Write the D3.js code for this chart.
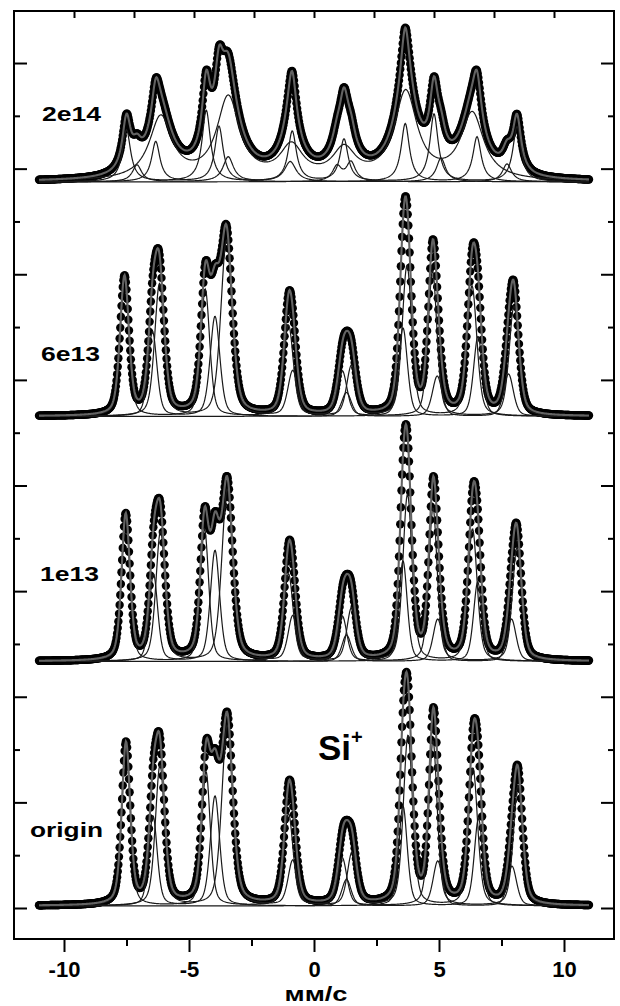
<!DOCTYPE html>
<html><head><meta charset="utf-8">
<script src="https://cdn.jsdelivr.net/npm/d3@7"></script>
<style>body{margin:0;background:#fff}svg text{font-family:"Liberation Sans",Arial,sans-serif;font-weight:bold}</style>
</head><body>
<svg id="c" width="620" height="1006"></svg>
<script>
// ---- data (velocities in mm/s, heights in y-axis units of one tick step) ----
const spectrumNames = ["origin", "1e13", "6e13", "2e14"];
const baselines = [0.04, 4.67, 9.31, 13.75];
const lorentzFraction = [0.4, 0.4, 0.4, 1.0];
const labelX = [30, 40, 41, 42];
const labelY = [837, 581, 361, 121];
const labelWidth = [73, 59, 59, 59];
const xMajorTicks = [-10, -5, 0, 5, 10];
const xMinorTicks = [-7.5, -2.5, 2.5, 7.5];
const topTicks = [-9.6, -7.2, -4.8, -2.4, 0, 2.4, 4.8, 7.2, 9.6];
const yTicks = [0,1,2,3,4,5,6,7,8,9,10,11,12,13,14,15,16];

// origin: line centres, heights, half-widths, subspectrum index
const originCenters = [-7.52,-4.32,-1.02,1.13,4.76,8.16,  -6.16,-3.47,-0.85,1.52,3.76,6.36,  -6.44,-3.96,3.56,6.58,  1.30,4.95,7.92];
const originHeights = [3.05,2.54,1.74,0.90,3.12,2.27,      2.65,3.41,0.85,1.00,3.22,2.60,      1.70,2.08,1.89,1.65,      0.50,0.85,0.75];
const originWidths  = [0.20,0.20,0.22,0.22,0.20,0.22,      0.22,0.26,0.22,0.22,0.22,0.22,      0.20,0.22,0.20,0.20,      0.22,0.22,0.22];
const originGroups  = [0,0,0,0,0,0, 1,1,1,1,1,1, 2,2,2,2, 3,3,3];

// 1e13
const e13Centers = [-7.53,-4.38,-1.02,1.13,4.76,8.12,  -6.14,-3.47,-0.85,1.50,3.74,6.34,  -6.42,-3.96,3.56,6.55,  1.30,4.95,7.90];
const e13Heights = [2.75,2.50,1.65,0.85,2.90,2.15,      2.45,3.25,0.85,1.00,3.15,2.50,      1.65,2.10,1.90,1.50,      0.50,0.80,0.80];
const e13Widths  = [0.20,0.20,0.22,0.22,0.20,0.22,      0.22,0.26,0.22,0.22,0.22,0.22,      0.20,0.22,0.20,0.20,      0.22,0.22,0.22];
const e13Groups  = [0,0,0,0,0,0, 1,1,1,1,1,1, 2,2,2,2, 3,3,3];

// 6e13
const e6Centers = [-7.58,-4.35,-1.02,1.13,4.74,8.00,  -6.18,-3.50,-0.85,1.50,3.72,6.32,  -6.46,-3.96,3.56,6.56,  1.30,4.93,7.78];
const e6Heights = [2.61,2.40,1.72,0.85,2.75,2.08,      2.50,3.32,0.85,0.95,2.84,2.46,      1.60,1.89,1.67,1.51,      0.45,0.76,0.80];
const e6Widths  = [0.21,0.21,0.23,0.23,0.21,0.23,      0.23,0.27,0.23,0.23,0.23,0.23,      0.21,0.23,0.21,0.21,      0.23,0.23,0.23];
const e6Groups  = [0,0,0,0,0,0, 1,1,1,1,1,1, 2,2,2,2, 3,3,3];

// 2e14
const e14Centers = [-7.50,-4.31,-0.87,1.20,4.80,8.12,  -6.33,-3.80,3.65,6.52,  -6.13,-3.43,-0.90,1.20,3.67,6.33,  -7.08,-3.43,-0.95,5.08,  0.92,1.48,7.72];
const e14Heights = [0.98,1.35,0.95,0.80,1.28,1.04,      0.76,1.05,1.10,0.85,    1.19,1.55,0.61,0.55,1.65,1.25,      0.32,0.47,0.38,0.45,     0.28,0.36,0.34];
const e14Widths  = [0.20,0.20,0.20,0.20,0.20,0.20,      0.20,0.20,0.20,0.20,    0.55,0.55,0.55,0.55,0.55,0.55,      0.22,0.25,0.28,0.22,     0.22,0.22,0.22];
const e14Groups  = [0,0,0,0,0,0, 1,1,1,1, 2,2,2,2,2,2, 3,3,3,3, 4,4,4];

const spectra = [
  {c: originCenters, h: originHeights, w: originWidths, g: originGroups},
  {c: e13Centers, h: e13Heights, w: e13Widths, g: e13Groups},
  {c: e6Centers, h: e6Heights, w: e6Widths, g: e6Groups},
  {c: e14Centers, h: e14Heights, w: e14Widths, g: e14Groups}
];

// ---- chart ----
const svg = d3.select("#c");
const x = d3.scaleLinear().domain([-12, 12]).range([14, 614]);
const y = d3.scaleLinear().domain([-0.587, 16.985]).range([939, 11]);

const vel = d3.range(-11, 11.0001, 0.025);
// pseudo-Voigt line shape
const shape = (v, c, h, w, eta) => {
  const q = ((v - c) / w) ** 2;
  return h * (eta / (1 + q) + (1 - eta) * Math.exp(-Math.LN2 * q));
};

spectra.forEach((s, i) => {
  const base = baselines[i], eta = lorentzFraction[i];
  const idx = d3.range(s.c.length);
  const groups = Array.from(new Set(s.g));
  const sumOf = (v, ks) => base + d3.sum(ks, k => shape(v, s.c[k], s.h[k], s.w[k], eta));
  const pts = vel.map(v => [v, sumOf(v, idx)]);
  const line = d3.line().x(d => x(d[0])).y(d => y(d[1]));
  const gS = svg.append("g");
  gS.append("g").selectAll("circle").data(pts).join("circle")
    .attr("cx", d => x(d[0])).attr("cy", d => y(d[1])).attr("r", 4.2).attr("fill", "#000");
  groups.forEach(gr => {
    const ks = idx.filter(k => s.g[k] === gr);
    const cp = vel.map(v => [v, sumOf(v, ks)]);
    gS.append("path").attr("d", line(cp)).attr("fill", "none").attr("stroke", "#1a1a1a").attr("stroke-width", 1.2);
  });
  gS.append("path").attr("d", line(pts)).attr("fill", "none").attr("stroke", "#636363").attr("stroke-width", 2.1);
  svg.append("text").attr("x", labelX[i]).attr("y", labelY[i]).attr("font-size", 21)
    .attr("textLength", labelWidth[i]).attr("lengthAdjust", "spacingAndGlyphs").text(spectrumNames[i]);
});

// axes
const axG = svg.append("g");
const bMaj = axG.append("g").attr("transform", "translate(0,939)")
  .call(d3.axisBottom(x).tickValues(xMajorTicks).tickSize(13).tickPadding(9).tickFormat(d => String(d)));
axG.append("g").attr("transform", "translate(0,939)")
  .call(d3.axisBottom(x).tickValues(xMinorTicks).tickSize(7).tickFormat(""));
axG.append("g").attr("transform", "translate(0,11)")
  .call(d3.axisTop(x).tickValues(topTicks).tickSize(-7).tickFormat(""));
const lAx = axG.append("g").attr("transform", "translate(14,0)")
  .call(d3.axisLeft(y).tickValues(yTicks).tickSize(0).tickFormat(""));
lAx.selectAll(".tick line").attr("x2", d => d % 2 === 0 ? 13 : 6);
const rAx = axG.append("g").attr("transform", "translate(614,0)")
  .call(d3.axisRight(y).tickValues(yTicks).tickSize(0).tickFormat(""));
rAx.selectAll(".tick line").attr("x2", d => d % 2 === 0 ? -13 : -6);
axG.selectAll(".domain").remove();
axG.selectAll(".tick line").attr("stroke", "#000").attr("stroke-width", 2);
bMaj.selectAll("text").attr("font-size", 22).attr("fill", "#000")
  .attr("font-family", "Liberation Sans, Arial, sans-serif").attr("font-weight", "bold");

svg.append("rect").attr("x", 14).attr("y", 11).attr("width", 600).attr("height", 928)
  .attr("fill", "none").attr("stroke", "#000").attr("stroke-width", 2);

svg.append("text").attr("x", 316).attr("y", 1001.3).attr("text-anchor", "middle").attr("font-size", 21)
  .attr("textLength", 63).attr("lengthAdjust", "spacingAndGlyphs").text("мм/с");
const si = svg.append("text").attr("x", 318).attr("y", 760).attr("font-size", 35);
si.append("tspan").text("Si");
si.append("tspan").attr("font-size", 20).attr("dy", -16).text("+");
</script>
</body></html>
